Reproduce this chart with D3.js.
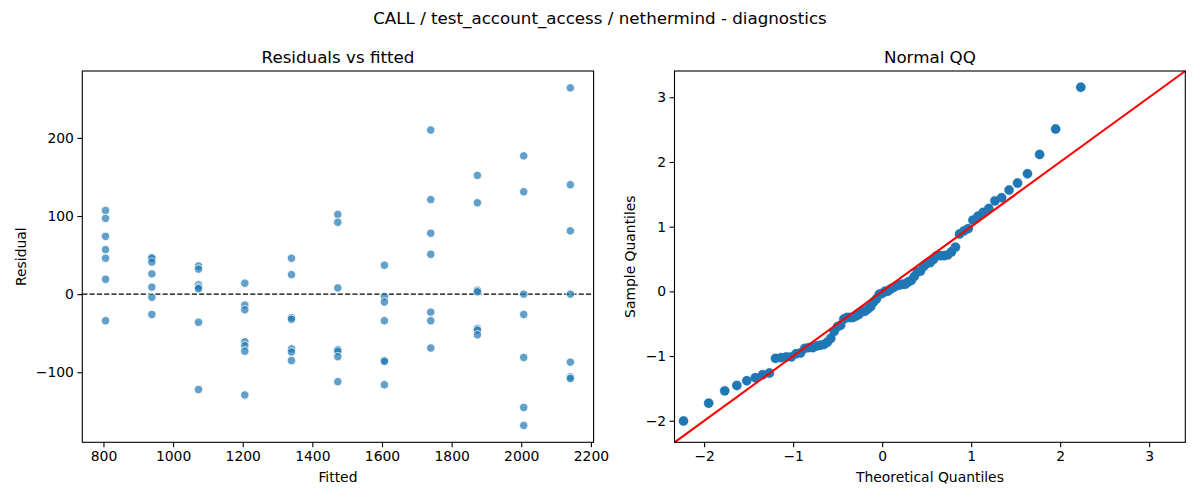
<!DOCTYPE html>
<html>
<head>
<meta charset="utf-8">
<script src="https://cdn.jsdelivr.net/npm/d3@7"></script>
<style>
  body { margin: 0; background: #fff; }
  svg text { font-family: "DejaVu Sans", sans-serif; fill: #000; }
</style>
</head>
<body>
<div id="chart"></div>
<script>
// fitted levels (one per group) and residuals
const fittedLevels = [806, 939, 1073, 1206, 1340, 1473, 1607, 1740, 1874, 2007, 2141];
const residualsByLevel = [
  [107, 97, 74, 57, 46, 19, -34],
  [47, 46, 41, 26, 9, -4, -26],
  [36, 32, 12, 9, 7, -36, -122],
  [14, -14, -20, -61, -66, -73, -129],
  [46, 25, -30, -32, -70, -74, -85],
  [102, 92, 8, -71, -73, -80, -112],
  [37, -3, -10, -34, -85, -86, -116],
  [210, 121, 78, 51, -23, -34, -69],
  [152, 117, 5, 3, -44, -46, -52],
  [177, 131, 0, -26, -81, -145, -168],
  [264, 140, 81, 0, -87, -106, -108],
];
const residTicks = [-100, 0, 100, 200];
const fittedTicks = [800, 1000, 1200, 1400, 1600, 1800, 2000, 2200];
const qqTicks = [-2, -1, 0, 1, 2, 3];
const qqLimits = [-2.333, 3.406];

const suptitle = "CALL / test_account_access / nethermind - diagnostics";

const width = 1200, height = 500;
const svg = d3.select("#chart").append("svg")
  .attr("width", width).attr("height", height);

const fmt = (d) => String(d).replace("-", "\u2212");

// inverse normal cdf (Acklam)
function normPpf(p) {
  const a = [-39.69683028665376, 220.9460984245205, -275.9285104469687, 138.357751867269, -30.66479806614716, 2.506628277459239];
  const b = [-54.47609879822406, 161.5858368580409, -155.6989798598866, 66.80131188771972, -13.28068155288572];
  const c = [-0.007784894002430293, -0.3223964580411365, -2.400758277161838, -2.549732539343734, 4.374664141464968, 2.938163982698783];
  const e = [0.007784695709041462, 0.3224671290700398, 2.445134137142996, 3.754408661907416];
  const pl = 0.02425;
  let q, r;
  if (p < pl) {
    q = Math.sqrt(-2 * Math.log(p));
    return (((((c[0]*q+c[1])*q+c[2])*q+c[3])*q+c[4])*q+c[5]) / ((((e[0]*q+e[1])*q+e[2])*q+e[3])*q+1);
  } else if (p <= 1 - pl) {
    q = p - 0.5; r = q * q;
    return (((((a[0]*r+a[1])*r+a[2])*r+a[3])*r+a[4])*r+a[5])*q / (((((b[0]*r+b[1])*r+b[2])*r+b[3])*r+b[4])*r+1);
  }
  q = Math.sqrt(-2 * Math.log(1 - p));
  return -(((((c[0]*q+c[1])*q+c[2])*q+c[3])*q+c[4])*q+c[5]) / ((((e[0]*q+e[1])*q+e[2])*q+e[3])*q+1);
}

function padDomain(ext) {
  const m = (ext[1] - ext[0]) * 0.05;
  return [ext[0] - m, ext[1] + m];
}

function drawAxes(g, x, y, w, h, xTicks, yTicks) {
  g.append("g").attr("transform", `translate(0,${h})`)
    .call(d3.axisBottom(x).tickValues(xTicks).tickFormat(fmt).tickSize(4.9).tickPadding(3.5).tickSizeOuter(0))
    .call((a) => a.select(".domain").remove());
  g.append("g")
    .call(d3.axisLeft(y).tickValues(yTicks).tickFormat(fmt).tickSize(4.9).tickPadding(3.5).tickSizeOuter(0))
    .call((a) => a.select(".domain").remove());
  g.selectAll(".tick text").attr("font-size", 13.9).attr("font-family", "DejaVu Sans");
  g.selectAll(".tick line").attr("stroke-width", 1.1);
  g.append("rect").attr("width", w).attr("height", h)
    .attr("fill", "none").attr("stroke", "#000").attr("stroke-width", 1.1);
}

svg.append("text").attr("x", 600).attr("y", 24).attr("text-anchor", "middle")
  .attr("font-size", 16.7).text(suptitle);

// ---- Residuals vs fitted ----
const left = { x: 82.3, y: 71, w: 511.3, h: 371.3 };
const points = fittedLevels.flatMap((f, i) => residualsByLevel[i].map((r) => ({ fitted: f, resid: r })));

const x1 = d3.scaleLinear().domain(padDomain(d3.extent(points, (d) => d.fitted))).range([0, left.w]);
const y1 = d3.scaleLinear().domain(padDomain(d3.extent(points, (d) => d.resid))).range([left.h, 0]);

const g1 = svg.append("g").attr("transform", `translate(${left.x},${left.y})`);
g1.append("line").attr("x1", 0).attr("x2", left.w).attr("y1", y1(0)).attr("y2", y1(0))
  .attr("stroke", "#000").attr("stroke-width", 1.2).attr("stroke-dasharray", "5.1,2.2");
g1.selectAll("circle.pt").data(points).join("circle")
  .attr("class", "pt")
  .attr("cx", (d) => x1(d.fitted)).attr("cy", (d) => y1(d.resid)).attr("r", 4.2)
  .attr("fill", "#1f77b4").attr("fill-opacity", 0.7)
  .attr("stroke", "#fff").attr("stroke-width", 0.8);
drawAxes(g1, x1, y1, left.w, left.h, fittedTicks, residTicks);
g1.append("text").attr("x", left.w / 2).attr("y", -8.3).attr("text-anchor", "middle")
  .attr("font-size", 16.7).text("Residuals vs fitted");
g1.append("text").attr("x", left.w / 2).attr("y", 411).attr("text-anchor", "middle")
  .attr("font-size", 13.9).text("Fitted");
g1.append("text").attr("transform", `translate(${21 - left.x + 5},${left.h / 2}) rotate(-90)`)
  .attr("text-anchor", "middle").attr("font-size", 13.9).text("Residual");

// ---- Normal QQ ----
const right = { x: 674.5, y: 71, w: 510.8, h: 371.3 };
const allResid = points.map((d) => d.resid);
const mu = d3.mean(allResid);
const sd = Math.sqrt(d3.mean(allResid, (r) => (r - mu) * (r - mu)));
const sorted = allResid.map((r) => (r - mu) / sd).sort(d3.ascending);
const n = sorted.length;
const qq = sorted.map((s, i) => ({ theo: normPpf((i + 1) / (n + 1)), sample: s }));

const x2 = d3.scaleLinear().domain(qqLimits).range([0, right.w]);
const y2 = d3.scaleLinear().domain(qqLimits).range([right.h, 0]);

const g2 = svg.append("g").attr("transform", `translate(${right.x},${right.y})`);
g2.selectAll("circle.qq").data(qq).join("circle")
  .attr("class", "qq")
  .attr("cx", (d) => x2(d.theo)).attr("cy", (d) => y2(d.sample)).attr("r", 4.7)
  .attr("fill", "#1f77b4").attr("stroke", "#1f77b4").attr("stroke-width", 0.3);
g2.append("line")
  .attr("x1", x2(qqLimits[0])).attr("y1", y2(qqLimits[0]))
  .attr("x2", x2(qqLimits[1])).attr("y2", y2(qqLimits[1]))
  .attr("stroke", "red").attr("stroke-width", 2.1);
drawAxes(g2, x2, y2, right.w, right.h, qqTicks, qqTicks);
g2.append("text").attr("x", right.w / 2).attr("y", -8.3).attr("text-anchor", "middle")
  .attr("font-size", 16.7).text("Normal QQ");
g2.append("text").attr("x", right.w / 2).attr("y", 411).attr("text-anchor", "middle")
  .attr("font-size", 13.9).text("Theoretical Quantiles");
g2.append("text").attr("transform", `translate(${630 - right.x + 5},${right.h / 2}) rotate(-90)`)
  .attr("text-anchor", "middle").attr("font-size", 13.9).text("Sample Quantiles");
</script>
</body>
</html>
